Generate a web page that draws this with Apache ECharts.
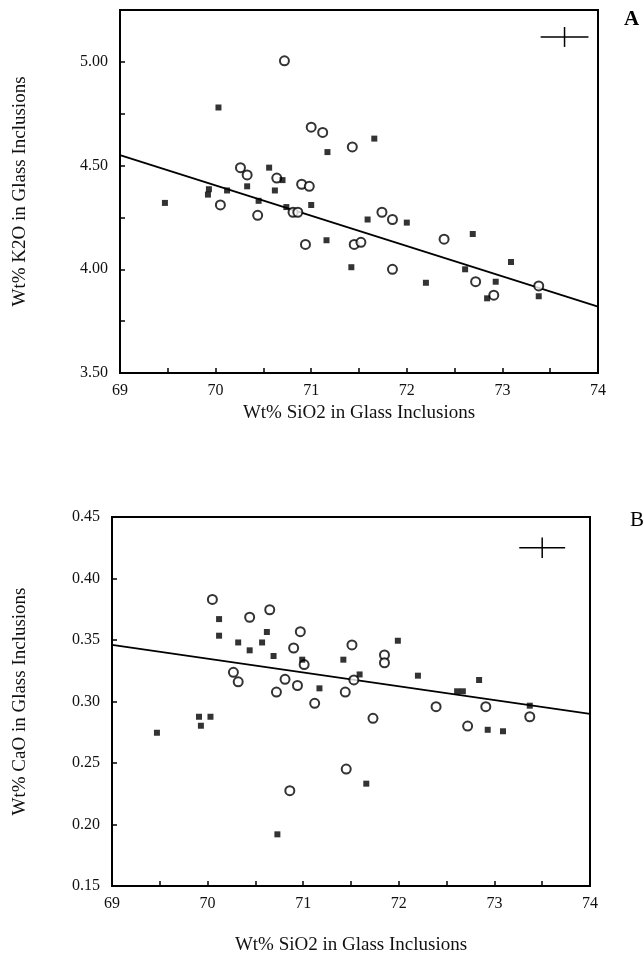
<!DOCTYPE html>
<html><head><meta charset="utf-8">
<script src="https://cdn.jsdelivr.net/npm/echarts@6/dist/echarts.min.js"></script>
<style>html,body{margin:0;padding:0;background:#fff}#c{width:644px;height:964px}</style>
</head><body><div id="c"></div>
<script>
// ---- Data ----
const k2oOpen = [[70.72,5.005],[71.0,4.685],[71.12,4.66],[71.43,4.59],[70.26,4.49],[70.33,4.455],[70.64,4.44],[70.90,4.41],[70.98,4.40],[70.05,4.31],[70.44,4.26],[70.81,4.275],[70.86,4.275],[70.94,4.12],[71.45,4.12],[71.52,4.13],[71.74,4.275],[71.85,4.24],[71.85,4.0],[72.39,4.145],[72.72,3.94],[72.91,3.875],[73.38,3.92]];
const k2oFilled = [[70.03,4.78],[71.17,4.565],[71.66,4.63],[70.56,4.49],[70.70,4.43],[70.33,4.40],[70.62,4.38],[70.12,4.38],[69.93,4.386],[69.92,4.36],[69.47,4.32],[70.45,4.33],[70.74,4.30],[71.0,4.31],[71.16,4.14],[71.42,4.01],[71.59,4.24],[72.0,4.225],[72.20,3.935],[72.69,4.17],[72.61,4.0],[72.93,3.94],[72.84,3.86],[73.09,4.035],[73.38,3.87]];
const k2oFit = [[69,4.55],[74,3.82]];
const k2oErr = [[73.65,5.12,0.25,0.048]]; // x, y, ±x, ±y

const caoOpen = [[70.05,0.383],[70.44,0.3685],[70.65,0.3746],[70.97,0.3568],[70.90,0.3435],[71.01,0.330],[71.51,0.346],[70.27,0.3237],[70.32,0.316],[70.72,0.3077],[70.81,0.318],[70.94,0.313],[71.12,0.2985],[71.44,0.3077],[71.53,0.3175],[71.85,0.3378],[71.85,0.3315],[72.39,0.2958],[72.91,0.2958],[71.73,0.2863],[71.45,0.2451],[72.72,0.280],[73.37,0.2876],[70.86,0.2275]];
const caoFilled = [[70.12,0.367],[70.12,0.3535],[70.62,0.3565],[70.32,0.348],[70.57,0.348],[70.44,0.3416],[70.69,0.337],[70.99,0.334],[71.42,0.334],[71.17,0.3107],[71.59,0.322],[71.99,0.3494],[72.20,0.321],[72.84,0.3175],[72.61,0.3083],[72.67,0.3083],[73.37,0.2966],[71.66,0.2332],[72.93,0.277],[73.09,0.2758],[69.91,0.2876],[70.03,0.2876],[69.93,0.2803],[69.47,0.2746],[70.73,0.192]];
const caoFit = [[69,0.346],[74,0.29]];
const caoErr = [[73.50,0.425,0.24,0.0084]];

const xTitle = 'Wt% SiO2 in Glass Inclusions';
const yTitleTop = 'Wt% K2O in Glass Inclusions';
const yTitleBot = 'Wt% CaO in Glass Inclusions';
const panelLabels = ['A','B'];

// ---- Chart ----
const FONT = 'Liberation Serif';
const chart = echarts.init(document.getElementById('c'), null, {renderer:'canvas'});

function xAxisCfg(gi, gap){
  return {gridIndex:gi, type:'value', min:69, max:74, interval:0.5,
    name:xTitle, nameLocation:'middle', nameGap:gap,
    nameTextStyle:{fontFamily:FONT, fontSize:19, color:'#111'},
    axisLine:{show:true, lineStyle:{color:'#000', width:2}},
    axisTick:{show:true, inside:true, length:5, lineStyle:{color:'#000', width:1.5}},
    axisLabel:{fontFamily:FONT, fontSize:16, color:'#111', margin:10,
      formatter:v=> (Math.abs(v-Math.round(v))<1e-6) ? String(Math.round(v)) : ''},
    splitLine:{show:false}};
}
function yAxisCfg(gi, min, max, interval, name, gap, fmt){
  return {gridIndex:gi, type:'value', min:min, max:max, interval:interval,
    name:name, nameLocation:'middle', nameGap:gap, nameRotate:90,
    nameTextStyle:{fontFamily:FONT, fontSize:19, color:'#111'},
    axisLine:{show:true, lineStyle:{color:'#000', width:2}},
    axisTick:{show:true, inside:true, length:5, lineStyle:{color:'#000', width:1.5}},
    axisLabel:{fontFamily:FONT, fontSize:16, color:'#111', margin:12, formatter:fmt},
    splitLine:{show:false}};
}
function openSeries(data, xi, yi){
  return {type:'scatter', xAxisIndex:xi, yAxisIndex:yi, data:data, symbol:'circle', symbolSize:9,
    itemStyle:{color:'#fff', borderColor:'#000', borderWidth:2}, z:5};
}
function filledSeries(data, xi, yi){
  return {type:'scatter', xAxisIndex:xi, yAxisIndex:yi, data:data, symbol:'rect', symbolSize:6,
    itemStyle:{color:'#000'}, z:6};
}
function fitSeries(data, xi, yi){
  return {type:'line', xAxisIndex:xi, yAxisIndex:yi, data:data, symbol:'none',
    lineStyle:{color:'#000', width:1.8}, z:4};
}
function errSeries(data, xi, yi){
  return {type:'custom', xAxisIndex:xi, yAxisIndex:yi, data:data, z:7,
    renderItem:function(params, api){
      const x=api.value(0), y=api.value(1), dx=api.value(2), dy=api.value(3);
      const l=api.coord([x-dx,y]), r=api.coord([x+dx,y]);
      const t=api.coord([x,y+dy]), b=api.coord([x,y-dy]);
      return {type:'group', children:[
        {type:'line', shape:{x1:l[0],y1:l[1],x2:r[0],y2:r[1]}, style:{stroke:'#000', lineWidth:1.5}},
        {type:'line', shape:{x1:t[0],y1:t[1],x2:b[0],y2:b[1]}, style:{stroke:'#000', lineWidth:1.5}}
      ]};
    }};
}

chart.setOption({
  animation:false,
  backgroundColor:'#fff',
  grid:[
    {left:120, top:10, width:478, height:363, show:true, borderColor:'#000', borderWidth:2, backgroundColor:'transparent'},
    {left:112, top:517, width:478, height:369, show:true, borderColor:'#000', borderWidth:2, backgroundColor:'transparent'}
  ],
  xAxis:[xAxisCfg(0, 31), xAxisCfg(1, 50)],
  yAxis:[
    yAxisCfg(0, 3.5, 5.25, 0.25, yTitleTop, 90, v=>{const r=Math.round(v*100); return (r%50===0 && r<=500)? v.toFixed(2):'';}),
    yAxisCfg(1, 0.15, 0.45, 0.05, yTitleBot, 82, v=>v.toFixed(2))
  ],
  graphic:[
    {type:'text', left:624, top:9, style:{text:panelLabels[0], font:'bold 21px "Liberation Serif"', fill:'#000'}},
    {type:'text', left:630, top:510, style:{text:panelLabels[1], font:'21px "Liberation Serif"', fill:'#000'}}
  ],
  series:[
    fitSeries(k2oFit,0,0), openSeries(k2oOpen,0,0), filledSeries(k2oFilled,0,0), errSeries(k2oErr,0,0),
    fitSeries(caoFit,1,1), openSeries(caoOpen,1,1), filledSeries(caoFilled,1,1), errSeries(caoErr,1,1)
  ]
});
</script></body></html>
